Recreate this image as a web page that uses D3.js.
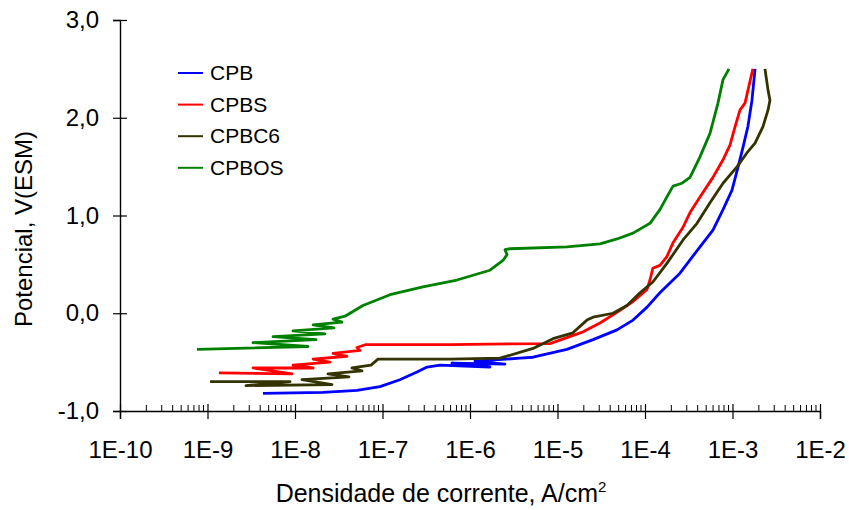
<!DOCTYPE html>
<html>
<head>
<meta charset="utf-8">
<script src="https://cdn.jsdelivr.net/npm/d3@7"></script>
<style>
  body { margin: 0; background: #fff; }
  text { font-family: "Liberation Sans", Arial, sans-serif; fill: #000; }
</style>
</head>
<body>
<script>
//polarization curves, potential vs current density
//series names and colours
var seriesNames = ["CPB", "CPBS", "CPBC6", "CPBOS"];
var seriesColors = ["#0000ff", "#ff0000", "#333300", "#008000"];

//current density (A/cm2) and potential (V), one pair of arrays per series
//the back-and-forth points at low current copy the noisy bands of the scans
var cpbI = [4.31e-9, 2.09e-8, 5.11e-8, 9.36e-8, 1.58e-7, 2.48e-7, 3.23e-7, 4.54e-7, 1.69e-6, 6.22e-7, 2.51e-6, 1.14e-6, 3.73e-6, 5.25e-6, 1.28e-5, 2.55e-5, 4.79e-5, 7.3e-5, 1.05e-4, 1.48e-4, 2.51e-4, 4.25e-4, 5.98e-4, 7.79e-4, 9.87e-4, 1.16e-3, 1.32e-3, 1.50e-3, 1.67e-3, 1.81e-3];
var cpbV = [-0.82, -0.81, -0.79, -0.75, -0.68, -0.60, -0.55, -0.53, -0.55, -0.51, -0.52, -0.49, -0.46, -0.45, -0.37, -0.27, -0.17, -0.07, 0.06, 0.21, 0.41, 0.68, 0.85, 1.06, 1.26, 1.50, 1.70, 1.91, 2.18, 2.50];

var cpbsI = [1.35e-9, 9.25e-9, 3.31e-9, 1.61e-8, 9.49e-9, 2.51e-8, 1.61e-8, 3.93e-8, 2.72e-8, 5.53e-8, 5.11e-8, 6.48e-8, 5.91e-7, 8.21e-6, 1.28e-5, 1.96e-5, 3.06e-5, 5.18e-5, 7.3e-5, 1.05e-4, 1.14e-4, 1.23e-4, 1.48e-4, 1.78e-4, 2.09e-4, 2.72e-4, 3.27e-4, 4.25e-4, 5.98e-4, 7.79e-4, 9.36e-4, 1.07e-3, 1.22e-3, 1.39e-3, 1.50e-3, 1.71e-3];
var cpbsV = [-0.61, -0.62, -0.56, -0.56, -0.53, -0.50, -0.47, -0.44, -0.41, -0.38, -0.35, -0.32, -0.32, -0.31, -0.25, -0.19, -0.10, 0.03, 0.12, 0.24, 0.34, 0.46, 0.49, 0.58, 0.72, 0.88, 1.03, 1.19, 1.39, 1.57, 1.72, 1.91, 2.08, 2.15, 2.28, 2.50];

var cpbc6I = [1.07e-9, 8.77e-9, 2.75e-9, 2.65e-8, 1.20e-8, 4.14e-8, 2.38e-8, 5.83e-8, 4.48e-8, 7.39e-8, 8.89e-8, 5.91e-7, 2.20e-6, 5.25e-6, 8.89e-6, 1.50e-5, 2.17e-5, 2.55e-5, 4.31e-5, 6.22e-5, 8.77e-5, 1.23e-4, 1.78e-4, 2.72e-4, 3.93e-4, 5.53e-4, 7.79e-4, 1.13e-3, 1.46e-3, 1.81e-3, 2.23e-3, 2.55e-3, 2.68e-3, 2.55e-3, 2.35e-3];
var cpbc6V = [-0.70, -0.70, -0.74, -0.73, -0.68, -0.65, -0.62, -0.59, -0.56, -0.53, -0.47, -0.47, -0.46, -0.36, -0.26, -0.20, -0.07, -0.04, 0.00, 0.08, 0.21, 0.32, 0.51, 0.75, 0.92, 1.13, 1.33, 1.50, 1.64, 1.74, 1.91, 2.08, 2.18, 2.28, 2.50];

var cpbosI = [7.59e-10, 1.41e-8, 3.31e-9, 1.74e-8, 5.61e-9, 2.20e-8, 9.49e-9, 2.79e-8, 1.61e-8, 3.44e-8, 2.72e-8, 3.73e-8, 5.98e-8, 1.22e-7, 2.90e-7, 7.10e-7, 1.69e-6, 2.38e-6, 2.65e-6, 2.51e-6, 2.86e-6, 1.28e-5, 3.06e-5, 4.79e-5, 7.3e-5, 1.14e-4, 1.48e-4, 1.78e-4, 2.09e-4, 2.65e-4, 3.27e-4, 4.25e-4, 5.53e-4, 6.82e-4, 7.79e-4, 9.12e-4];
var cpbosV = [-0.37, -0.34, -0.30, -0.27, -0.24, -0.21, -0.18, -0.15, -0.12, -0.09, -0.06, -0.03, 0.08, 0.19, 0.27, 0.34, 0.44, 0.54, 0.60, 0.65, 0.66, 0.68, 0.71, 0.76, 0.82, 0.92, 1.06, 1.19, 1.30, 1.33, 1.39, 1.60, 1.84, 2.15, 2.39, 2.50];

//axis ticks
var xTicks = [1e-10, 1e-9, 1e-8, 1e-7, 1e-6, 1e-5, 1e-4, 1e-3, 1e-2];
var xTickLabels = ["1E-10", "1E-9", "1E-8", "1E-7", "1E-6", "1E-5", "1E-4", "1E-3", "1E-2"];
var yTicks = [-1, 0, 1, 2, 3];

window.onload = function(){

    var w = 849, h = 510;
    var left = 120, right = 820, top = 20, bottom = 411;

    var svg = d3.select("body")
       .append("svg")
       .attr("width", w)
       .attr("height", h);

    //log scale for current, linear for potential
    var x = d3.scaleLog().domain([1e-10, 1e-2]).range([left, right]);
    var y = d3.scaleLinear().domain([-1, 3]).range([bottom, top]);

    //series built from the arrays above
    var allI = [cpbI, cpbsI, cpbc6I, cpbosI];
    var allV = [cpbV, cpbsV, cpbc6V, cpbosV];
    var series = seriesNames.map(function(name, k){
        return {
            name: name,
            color: seriesColors[k],
            points: allI[k].map(function(d, j){ return [d, allV[k][j]]; })
        };
    });

    var line = d3.line()
       .x(function(d){ return x(d[0]); })
       .y(function(d){ return y(d[1]); });

    svg.selectAll(".curve")
       .data(series)
       .enter()
       .append("path")
       .attr("class", "curve")
       .attr("d", function(d){ return line(d.points); })
       .attr("fill", "none")
       .attr("stroke", function(d){ return d.color; })
       .attr("stroke-width", 2.8)
       .attr("stroke-linejoin", "round");

    //y axis, ticks crossing the line
    var yAxis = d3.axisLeft(y)
       .tickValues(yTicks)
       .tickSize(7)
       .tickFormat(function(d){ return d3.format(".1f")(d).replace(".", ",").replace("\u2212", "-"); });

    var gy = svg.append("g")
       .attr("transform", "translate(" + left + ",0)")
       .call(yAxis);
    gy.select(".domain").attr("stroke", "#000").attr("stroke-width", 1.4);
    gy.selectAll(".tick line").attr("x2", 7).attr("x1", -7).attr("stroke", "#000").attr("stroke-width", 1.2);
    gy.selectAll(".tick text")
       .attr("x", -21)
       .style("font-size", "24px")
       .style("font-family", "Liberation Sans, Arial, sans-serif");

    //x axis, majors crossing, minors pointing up
    var xAxis = d3.axisBottom(x)
       .tickValues(xTicks)
       .tickSize(8)
       .tickFormat(function(d, i){ return xTickLabels[i]; });

    var gx = svg.append("g")
       .attr("transform", "translate(0," + bottom + ")")
       .call(xAxis);
    gx.select(".domain").attr("stroke", "#000").attr("stroke-width", 1.4);
    gx.selectAll(".tick line").attr("y1", -7).attr("y2", 8).attr("stroke", "#000").attr("stroke-width", 1.2);
    gx.selectAll(".tick text")
       .attr("y", 30)
       .style("font-size", "24px")
       .style("font-family", "Liberation Sans, Arial, sans-serif");

    var minor = [];
    xTicks.slice(0, -1).forEach(function(t){
        for (var m = 2; m <= 9; m++) minor.push(t * m);
    });
    gx.selectAll(".minor")
       .data(minor)
       .enter()
       .append("line")
       .attr("class", "minor")
       .attr("x1", function(d){ return x(d); })
       .attr("x2", function(d){ return x(d); })
       .attr("y1", 0)
       .attr("y2", -6)
       .attr("stroke", "#000");

    //axis titles
    var xt = svg.append("text")
       .attr("x", 441)
       .attr("y", 502)
       .attr("text-anchor", "middle")
       .style("font-size", "25px");
    xt.append("tspan").text("Densidade de corrente, A/cm");
    xt.append("tspan").attr("dy", -10).style("font-size", "15px").text("2");

    svg.append("text")
       .attr("transform", "translate(32,229) rotate(-90)")
       .attr("text-anchor", "middle")
       .style("font-size", "24px")
       .text("Potencial, V(ESM)");

    //legend
    var legend = svg.selectAll(".legend")
       .data(series)
       .enter()
       .append("g")
       .attr("class", "legend")
       .attr("transform", function(d, i){ return "translate(178," + (73 + i * 31.6) + ")"; });

    legend.append("line")
       .attr("x1", 0)
       .attr("x2", 25)
       .attr("stroke", function(d){ return d.color; })
       .attr("stroke-width", 2);

    legend.append("text")
       .attr("x", 32)
       .attr("y", 7)
       .style("font-size", "21px")
       .text(function(d){ return d.name; });
};
</script>
</body>
</html>
